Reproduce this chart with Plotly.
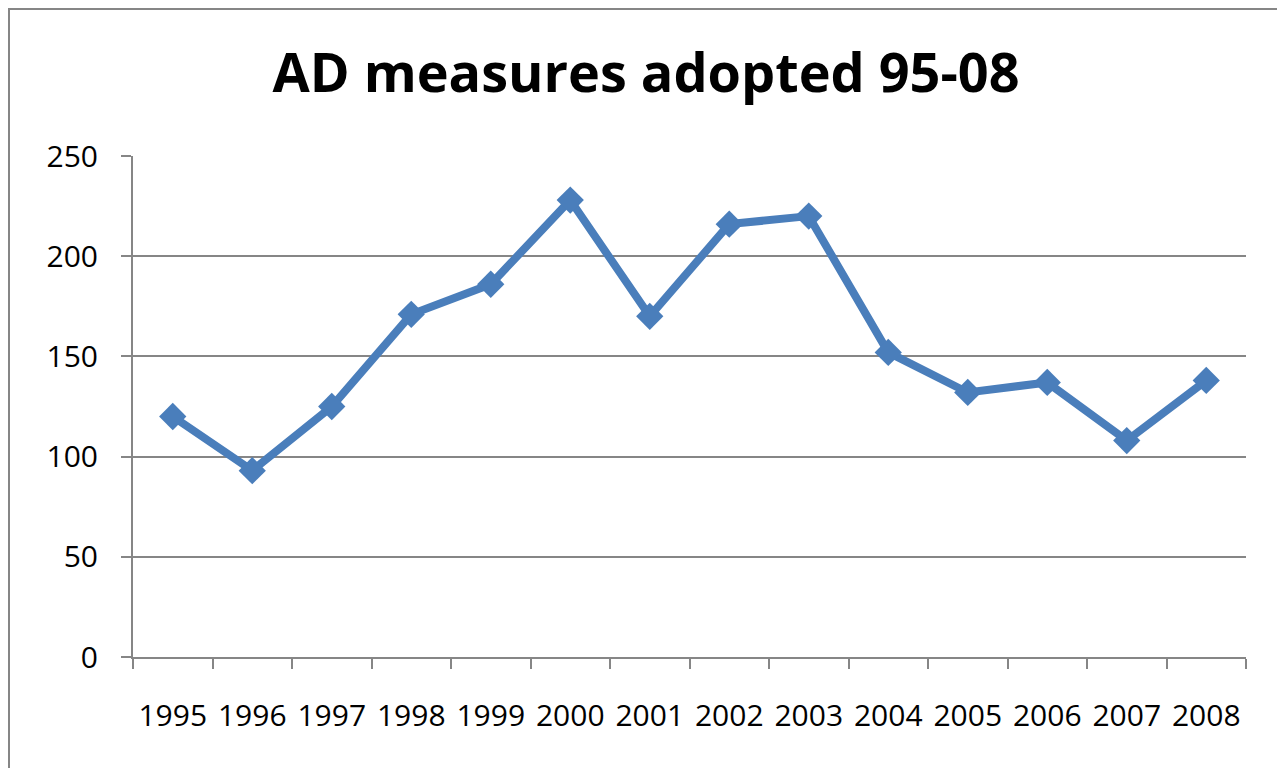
import plotly.graph_objects as go

years = ["1995", "1996", "1997", "1998", "1999", "2000", "2001",
         "2002", "2003", "2004", "2005", "2006", "2007", "2008"]
measures = [120, 93, 125, 171, 186, 228, 170, 216, 220, 152, 132, 137, 108, 138]
y_ticks = [0, 50, 100, 150, 200, 250]

OFF = 8  # page body margin
W, H = 1285 - OFF, 768 - OFF
L, T = 133 - OFF, 156 - OFF
pw, ph = 1113, 501
R, B = W - L - pw, H - T - ph

def px_x(p):
    return (p - OFF - L) / pw

def px_y(p):
    return (H - B - (p - OFF)) / ph

fig = go.Figure()
fig.add_trace(go.Scatter(
    x=years, y=measures, mode="lines+markers",
    line=dict(color="#4a7ebb", width=8),
    marker=dict(symbol="diamond", size=21, color="#4a7ebb"),
    showlegend=False,
))

fig.update_layout(
    width=W, height=H,
    margin=dict(l=L, r=R, t=T, b=B),
    paper_bgcolor="white", plot_bgcolor="white",
    font=dict(family="Open Sans, Noto Sans, sans-serif", color="black"),
    title=dict(text="<b>AD measures adopted 95-08</b>", x=(646 - OFF) / W, xref="container",
               y=1 - (73 - OFF) / H, yanchor="middle", xanchor="center",
               font=dict(size=54, color="black")),
    xaxis=dict(type="category", tickson="boundaries", ticks="outside", ticklen=10,
               tickwidth=2, tickcolor="#868686", showline=True, linecolor="#868686",
               linewidth=2, showgrid=False, tickfont=dict(size=30),
               ticklabelstandoff=31, range=[-0.5, 13.5]),
    yaxis=dict(range=[0, 250], tickvals=y_ticks, ticks="outside", ticklen=10,
               tickwidth=2, tickcolor="#868686", showline=True, linecolor="#868686",
               linewidth=2, showgrid=True, gridcolor="#868686", gridwidth=2,
               tickfont=dict(size=30), ticklabelstandoff=17, zeroline=False),
    shapes=[dict(type="rect", xref="paper", yref="paper",
                 x0=px_x(9), x1=px_x(1300), y0=px_y(780), y1=px_y(9),
                 line=dict(color="#868686", width=2), layer="below")],
)

fig.write_html("out.html")
